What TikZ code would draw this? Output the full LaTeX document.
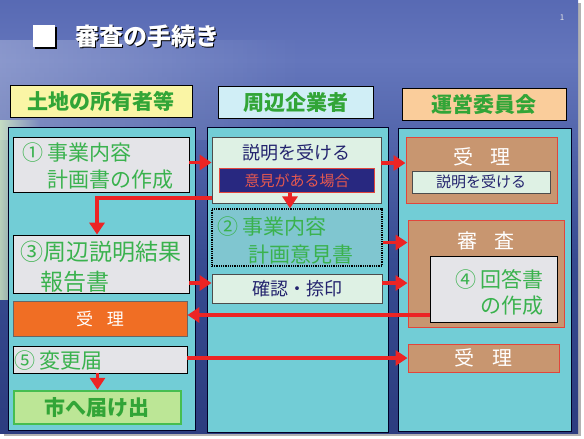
\documentclass[tikz,border=0pt]{standalone}
\usepackage{fontspec}
\newfontfamily\jp{Noto Sans CJK JP}
\usetikzlibrary{arrows.meta,fadings}
\definecolor{skyT}{RGB}{45,62,150}
\definecolor{skyM}{RGB}{100,118,188}
\definecolor{seaM}{RGB}{55,75,145}
\definecolor{seaD}{RGB}{30,42,105}
\definecolor{panel}{RGB}{114,205,214}
\definecolor{greyb}{RGB}{228,228,232}
\definecolor{lgreen}{RGB}{222,241,228}
\definecolor{gtext}{RGB}{58,178,78}
\definecolor{htext}{RGB}{50,165,55}
\definecolor{navy}{RGB}{35,35,110}
\definecolor{navyf}{RGB}{40,40,128}
\definecolor{arred}{RGB}{236,36,36}
\definecolor{bred}{RGB}{225,70,60}
\definecolor{orng}{RGB}{240,110,36}
\definecolor{tan}{RGB}{200,150,112}
\definecolor{cityf}{RGB}{188,230,150}
\definecolor{cityb}{RGB}{70,190,80}
\definecolor{hyel}{RGB}{250,245,165}
\definecolor{hcya}{RGB}{208,238,246}
\definecolor{hpea}{RGB}{250,205,155}
\definecolor{dotf}{RGB}{128,198,208}
\pgfdeclareverticalshading{sky}{100bp}{color(0bp)=(seaD); color(45bp)=(seaM); color(68bp)=(skyM); color(100bp)=(skyT)}
\begin{document}
\begin{tikzpicture}[x=1pt,y=-1pt,
  bx/.style={draw=black, line width=0.8pt, inner sep=0pt, anchor=center},
  hdr/.style={bx, line width=1pt, font=\jp\bfseries\fontsize{21}{24}\selectfont, text=htext},
  pnl/.style={bx, fill=panel, draw=black!85!blue, line width=1pt},
  gbox/.style={bx, fill=greyb},
  lgbox/.style={bx, fill=lgreen, draw=black!70},
  tbox/.style={bx, fill=tan, draw=bred, line width=1pt},
  gt/.style={inner sep=0pt, text=gtext, font=\jp\fontsize{21}{24}\selectfont},
  nt/.style={inner sep=0pt, text=navy, font=\jp\fontsize{18}{20}\selectfont},
  wt/.style={inner sep=0pt, text=white, font=\jp\fontsize{20}{22}\selectfont},
  arr/.style={draw=arred, line width=3.6pt, -{Triangle[length=12pt,width=15pt]}},
]
\useasboundingbox (0,0) rectangle (584,439);
\fill[gray!55] (5,5) rectangle (584,439);
\fill[white] (0,433.5) rectangle (584,439);
\fill[gray!60] (4,433) rectangle (580,436);
\fill[white] (580.5,0) rectangle (584,439);
\fill[gray!60] (578,3) rectangle (580.5,436);
\shade[shading=sky] (0,0) rectangle (578,433);
\fill[white, opacity=0.25, path fading=east] (0,40) rectangle (300,140);
\fill[yellow!60!cyan!40, opacity=0.8, path fading=east] (0,120) rectangle (40,300);

% title
\node[fill=black, minimum size=22pt, inner sep=0pt] (sqs) at (46,38) {};
\node[fill=white, minimum size=22pt, inner sep=0pt] (sq) at (44,36) {};
\node[anchor=west, inner sep=0pt, text=black, font=\jp\bfseries\fontsize{24}{26}\selectfont] (tts) at (76.5,37.5) {審査の手続き};
\node[anchor=west, inner sep=0pt, text=white, font=\jp\bfseries\fontsize{24}{26}\selectfont] (tt) at (75,36) {審査の手続き};
\node[inner sep=0pt, text=gray!20, font=\jp\fontsize{8}{9}\selectfont] (pg) at (562,18) {1};

% headers
\node[hdr, fill=hyel, minimum width=182pt, minimum height=32pt] (hL) at (101,101) {土地の所有者等};
\node[hdr, fill=hcya, minimum width=155pt, minimum height=32pt] (hM) at (295.5,102) {周辺企業者};
\node[hdr, fill=hpea, minimum width=164pt, minimum height=32pt] (hR) at (484,104) {運営委員会};

% panels
\node[pnl, minimum width=187pt, minimum height=303pt] (pL) at (101.5,278.5) {};
\node[pnl, minimum width=181pt, minimum height=305pt] (pM) at (297.5,279.5) {};
\node[pnl, minimum width=173pt, minimum height=303pt] (pR) at (484.5,279.5) {};

% left column
\node[gbox, minimum width=176pt, minimum height=55pt] (b1) at (101,164.5) {};
\node[gt, anchor=west] (b1a) at (22,153) {① 事業内容};
\node[gt, anchor=west] (b1b) at (47,180) {計画書の作成};
\node[gbox, minimum width=176pt, minimum height=58pt] (b3) at (101,264) {};
\node[gt, anchor=center, font=\jp\fontsize{23}{25}\selectfont] (b3a) at (101,252) {③周辺説明結果};
\node[gt, anchor=west, font=\jp\fontsize{23}{25}\selectfont] (b3b) at (40,282) {報告書};
\node[bx, fill=orng, draw=black!60, minimum width=174pt, minimum height=35pt, text=white, font=\jp\fontsize{17}{19}\selectfont] (rL) at (100,318.5) {受\hspace{0.8em}理};
\node[gbox, minimum width=174pt, minimum height=27pt] (b5) at (100,359.5) {};
\node[gt, anchor=west] (b5a) at (14,361) {⑤ 変更届};
\node[bx, fill=cityf, draw=cityb, line width=2.5pt, minimum width=167pt, minimum height=33pt, text=htext, font=\jp\bfseries\fontsize{21}{24}\selectfont] (city) at (97.5,407.5) {市へ届け出};

% middle column
\node[lgbox, minimum width=169pt, minimum height=66pt] (eM) at (296.5,170) {};
\node[nt] (eMt) at (296,153) {説明を受ける};
\node[bx, fill=navyf, draw=bred, line width=1.8pt, minimum width=155pt, minimum height=24pt, text=bred!90!white, font=\jp\fontsize{15}{17}\selectfont] (op) at (297,180.5) {意見がある場合};
\node[bx, fill=dotf, draw=black, densely dotted, line width=1.2pt, minimum width=170pt, minimum height=57pt] (b2) at (297,237.5) {};
\node[gt, anchor=west] (b2a) at (217,227) {② 事業内容};
\node[gt, anchor=west] (b2b) at (248,255) {計画意見書};
\node[lgbox, minimum width=170pt, minimum height=29pt, text=navy, font=\jp\fontsize{18}{20}\selectfont] (cf) at (297,288.5) {確認・捺印};

% right column
\node[tbox, minimum width=151pt, minimum height=66pt] (rR) at (481.5,170) {};
\node[wt] (rRt) at (482,157) {受\hspace{0.9em}理};
\node[lgbox, minimum width=138pt, minimum height=22pt, text=navy, font=\jp\fontsize{15}{17}\selectfont] (eR) at (481,182) {説明を受ける};
\node[tbox, minimum width=156pt, minimum height=107pt] (rv) at (486,273.5) {};
\node[wt] (rvt) at (486,241) {審\hspace{0.9em}査};
\node[gbox, line width=1pt, minimum width=127pt, minimum height=66pt] (b4) at (493.5,289) {};
\node[gt, anchor=east] (b4a) at (544,279) {④ 回答書};
\node[gt, anchor=east] (b4b) at (544,306) {の作成};
\node[tbox, minimum width=151pt, minimum height=28pt] (rR2) at (483.5,358) {};
\node[wt] (rR2t) at (483.5,358) {受\hspace{0.9em}理};

% connectors
\draw[arr] ([yshift=2pt]b1.east) -- ([yshift=2pt]b1.east -| eM.west);
\coordinate (k1) at (97,198);
\draw[arred, line width=3.6pt] (eM.west |- k1) -- (k1);
\draw[arr] ([yshift=1.8pt]k1) -- (k1 |- b3.north);
\draw[arr] ([yshift=7pt]eM.east) -- ([yshift=7pt]eM.east -| rR.west);
\draw[arr] ([xshift=-7pt]op.south) -- ([xshift=-7pt]op.south |- b2.north);
\draw[arr] ([yshift=-5pt]b2.east) -- ([yshift=-5pt]b2.east -| rv.west);
\draw[arr] ([yshift=5.5pt]b3.east |- cf.west) -- ([yshift=5.5pt]cf.west);
\draw[arr] ([yshift=5.5pt]cf.east) -- ([yshift=5.5pt]cf.east -| rv.west);
\draw[arr] ([yshift=-26pt]b4.west) coordinate (s8) -- (s8 -| rL.east);
\draw[arr] ([yshift=1.5pt]b5.east) -- ([yshift=1.5pt]b5.east -| rR2.west);
\draw[arr] (city.north |- b5.south) -- (city.north);
\end{tikzpicture}
\end{document}
